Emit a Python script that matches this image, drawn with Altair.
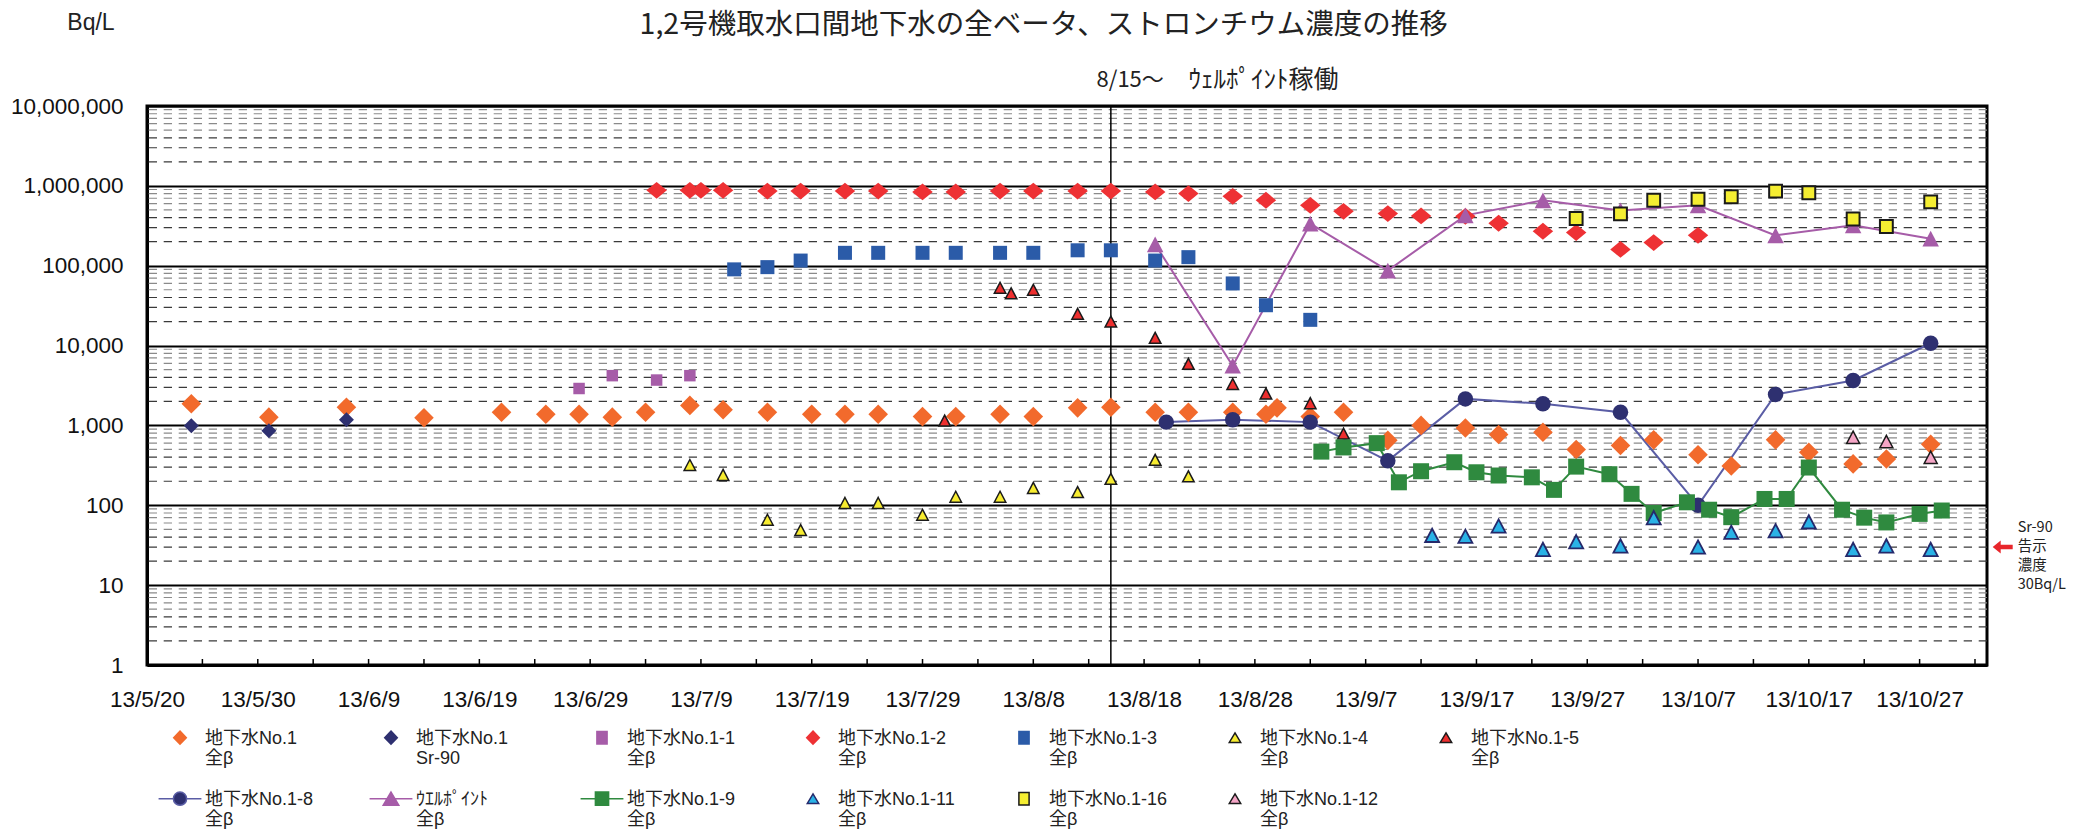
import altair as alt
import pandas as pd

# ------------------------------------------------------------------ data
TITLE = "1,2号機取水口間地下水の全ベータ、ストロンチウム濃度の推移"
UNIT = "Bq/L"
NOTE_TOP_A = "8/15～"
NOTE_TOP_B = "ｳｪﾙﾎﾟｲﾝﾄ稼働"
NOTE_RIGHT = "Sr-90\n告示\n濃度\n30Bq/L"
LIMIT_VALUE = [30]
WELLPOINT_START = ["2013-08-15"]

series_names = [
    "地下水No.1\n全β", "地下水No.1\nSr-90", "地下水No.1-1\n全β", "地下水No.1-2\n全β",
    "地下水No.1-3\n全β", "地下水No.1-4\n全β", "地下水No.1-5\n全β",
    "地下水No.1-8\n全β", "ｳｴﾙﾎﾟｲﾝﾄ\n全β", "地下水No.1-9\n全β", "地下水No.1-11\n全β",
    "地下水No.1-16\n全β", "地下水No.1-12\n全β",
]
line_series = ["地下水No.1-8\n全β", "ｳｴﾙﾎﾟｲﾝﾄ\n全β", "地下水No.1-9\n全β"]

no1_dates = ["05-24", "05-31", "06-07", "06-14", "06-21", "06-25", "06-28", "07-01", "07-04", "07-08",
             "07-11", "07-15", "07-19", "07-22", "07-25", "07-29", "08-01", "08-05", "08-08", "08-12",
             "08-15", "08-19", "08-22", "08-26", "08-29", "08-30", "09-02", "09-05",
             "09-09", "09-12", "09-16", "09-19", "09-23", "09-26", "09-30", "10-03", "10-07", "10-10",
             "10-14", "10-17", "10-21", "10-24", "10-28"]
no1_vals = [1870, 1270, 1690, 1250, 1460, 1380, 1380, 1270, 1460, 1780,
            1570, 1460, 1380, 1380, 1380, 1290, 1290, 1380, 1290, 1660,
            1690, 1460, 1460, 1460, 1380, 1660, 1290, 1460,
            650, 1000, 930, 770, 820, 500, 560, 660, 430, 310,
            660, 460, 330, 380, 580]

sr90_dates = ["05-24", "05-31", "06-07"]
sr90_vals = [990, 860, 1180]

no1_1_dates = ["06-28", "07-01", "07-05", "07-08"]
no1_1_vals = [2900, 4200, 3700, 4200]

no1_2_dates = ["07-05", "07-08", "07-09", "07-11", "07-15", "07-18", "07-22", "07-25", "07-29", "08-01",
               "08-05", "08-08", "08-12", "08-15", "08-19", "08-22", "08-26", "08-29", "09-02", "09-05",
               "09-09", "09-12", "09-16", "09-19", "09-23", "09-26", "09-30", "10-03", "10-07"]
no1_2_vals = [880000, 880000, 880000, 880000, 860000, 860000, 860000, 860000, 840000, 840000,
              860000, 860000, 860000, 860000, 840000, 800000, 740000, 660000, 570000, 480000,
              450000, 420000, 415000, 340000, 270000, 260000, 160000, 195000, 240000]

no1_3_dates = ["07-12", "07-15", "07-18", "07-22", "07-25", "07-29", "08-01", "08-05", "08-08", "08-12",
               "08-15", "08-19", "08-22", "08-26", "08-29", "09-02"]
no1_3_vals = [90000, 96000, 116000, 145000, 145000, 145000, 145000, 145000, 145000, 156000,
              156000, 116000, 128000, 60000, 32000, 21000]

no1_4_dates = ["07-08", "07-11", "07-15", "07-18", "07-22", "07-25", "07-29", "08-01", "08-05", "08-08",
               "08-12", "08-15", "08-19", "08-22"]
no1_4_vals = [320, 240, 66, 49, 107, 107, 76, 128, 128, 165, 146, 214, 370, 230]

no1_5_dates = ["07-31", "08-05", "08-06", "08-08", "08-12", "08-15", "08-19", "08-22", "08-26", "08-29",
               "09-02", "09-05"]
no1_5_vals = [1150, 53000, 45000, 50000, 25000, 20000, 12500, 5900, 3300, 2500, 1900, 790]

no1_8_dates = ["08-20", "08-26", "09-02", "09-09", "09-16", "09-23", "09-30", "10-07", "10-14", "10-21", "10-28"]
no1_8_vals = [1100, 1180, 1100, 360, 2150, 1870, 1460, 100, 2440, 3650, 10700]

well_dates = ["08-19", "08-26", "09-02", "09-09", "09-16", "09-23", "09-30", "10-07", "10-14", "10-21", "10-28"]
well_vals = [185000, 5600, 336000, 87000, 427000, 658000, 493000, 570000, 240000, 320000, 218000]

no1_9_dates = ["09-03", "09-05", "09-08", "09-10", "09-12", "09-15", "09-17", "09-19", "09-22", "09-24",
               "09-26", "09-29", "10-01", "10-03", "10-06", "10-08", "10-10", "10-13", "10-15", "10-17",
               "10-20", "10-22", "10-24", "10-27", "10-29"]
no1_9_vals = [470, 530, 600, 194, 267, 346, 259, 236, 224, 156,
              305, 245, 139, 80, 109, 88, 71, 120, 120, 297,
              88, 70, 61, 78, 86]

no1_11_dates = ["09-13", "09-16", "09-19", "09-23", "09-26", "09-30", "10-03", "10-07", "10-10", "10-14",
                "10-17", "10-21", "10-24", "10-28"]
no1_11_vals = [42, 41, 55, 28, 35, 31, 70, 30, 46, 48, 62, 28, 31, 28]

no1_16_dates = ["09-26", "09-30", "10-03", "10-07", "10-10", "10-14", "10-17", "10-21", "10-24", "10-28"]
no1_16_vals = [390000, 445000, 660000, 680000, 730000, 860000, 820000, 385000, 310000, 630000]

no1_12_dates = ["10-21", "10-24", "10-28"]
no1_12_vals = [710, 630, 400]

x_label_dates = ["2013-05-20", "2013-05-30", "2013-06-09", "2013-06-19", "2013-06-29", "2013-07-09",
                 "2013-07-19", "2013-07-29", "2013-08-08", "2013-08-18", "2013-08-28", "2013-09-07",
                 "2013-09-17", "2013-09-27", "2013-10-07", "2013-10-17", "2013-10-27"]
x_domain = ["2013-05-20", "2013-11-02 02:00"]
y_decades = [1, 10, 100, 1000, 10000, 100000, 1000000, 10000000]
minor_dark = [m * 10 ** k for k in range(7) for m in (2, 3, 4)]
minor_gray = [m * 10 ** k for k in range(7) for m in (5, 6, 7, 8, 9)]

all_series = [
    (no1_dates, no1_vals), (sr90_dates, sr90_vals), (no1_1_dates, no1_1_vals), (no1_2_dates, no1_2_vals),
    (no1_3_dates, no1_3_vals), (no1_4_dates, no1_4_vals), (no1_5_dates, no1_5_vals),
    (no1_8_dates, no1_8_vals), (well_dates, well_vals), (no1_9_dates, no1_9_vals),
    (no1_11_dates, no1_11_vals), (no1_16_dates, no1_16_vals), (no1_12_dates, no1_12_vals),
]
rows = []
for name, (ds, vs) in zip(series_names, all_series):
    for d, v in zip(ds, vs):
        rows.append({"date": "2013-" + d, "value": v, "series": name})
df = pd.DataFrame(rows)
df_lines = df[df["series"].isin(line_series)]

# ------------------------------------------------------------------ styles
TRI = "M0,-0.95L1,0.95L-1,0.95Z"
RED_DIA = "M0,-0.82L1,0L0,0.82L-1,0Z"
fills = ["#F26A2C", "#2E3070", "#A65CA8", "#EE3134", "#2B5BA8", "#F7EC30", "#EE2F2F",
         "#2E3070", "#A65CA8", "#2F8A3F", "#2AB2E6", "#F5EE32", "#F4A5C6"]
strokes = ["#F26A2C", "#2E3070", "#A65CA8", "#EE3134", "#2B5BA8", "#1a1a1a", "#1a1a1a",
           "#2E3070", "#A65CA8", "#2F8A3F", "#25296B", "#1a1a1a", "#1a1a1a"]
stroke_w = [0, 0, 0, 0, 0, 1.5, 1.5, 0, 0, 0, 1.8, 2, 1.5]
shapes = ["diamond", "diamond", "square", RED_DIA, "square", TRI, TRI,
          "circle", TRI, "square", TRI, "square", TRI]
sizes = [385, 225, 132, 420, 196, 132, 132, 240, 272, 256, 196, 165, 169]
line_colors = ["#5A5DA5", "#A65CA8", "#2F8A3F"]

# legend symbols (drawn 1.28 units low so they sit on the first label line)
EXT = "M-3.57,1.28M3.57,1.28"
L_DIA = EXT + "M0,0.18L1.05,1.28L0,2.38L-1.05,1.28Z"
L_SQ = EXT + "M-0.85,0.23H0.85V2.33H-0.85Z"
L_TRI = EXT + "M0,0.48L0.95,2.08L-0.95,2.08Z"
L_CIRC = "M-3.57,1.28H-1.1A1.1,1.1 0 0,1 1.1,1.28H3.57M1.1,1.28A1.1,1.1 0 0,1 -1.1,1.28"
L_TRI_LINE = "M-3.57,1.28H3.57M0,0.18L1.3,2.38L-1.3,2.38Z"
L_SQ_LINE = "M-3.57,1.28H3.57M-1.1,0.18H1.1V2.38H-1.1Z"
legend_shapes = [L_DIA, L_DIA, L_SQ, L_DIA, L_SQ, L_TRI, L_TRI, L_CIRC, L_TRI_LINE, L_SQ_LINE,
                 L_TRI, L_SQ, L_TRI]
legend_strokes = ["#F26A2C", "#2E3070", "#A65CA8", "#EE3134", "#2B5BA8", "#1a1a1a", "#1a1a1a",
                  "#5A5DA5", "#A65CA8", "#2F8A3F", "#25296B", "#1a1a1a", "#1a1a1a"]
ARROW = "M-1,0L-0.2,-0.65L-0.2,-0.22L1,-0.22L1,0.22L-0.2,0.22L-0.2,0.65Z"

LATIN = "Liberation Sans, Noto Sans CJK JP"
CJK = "Noto Sans CJK JP"
W, H = 1840, 559


def ms(d):
    return int(pd.Timestamp(d, tz="UTC").value // 10 ** 6)


xscale = alt.Scale(type="utc", domain=[ms(d) for d in x_domain])
yscale = alt.Scale(type="log", domain=[1, 10000000])
xaxis = alt.Axis(values=[ms(d) for d in x_label_dates],
                 labelExpr="utcFormat(datum.value, '%y/%-m/%-d')",
                 title=None, grid=False, ticks=False, labelPadding=23, labelFontSize=22.5,
                 labelFont=LATIN, labelColor="#111", domainColor="black", domainWidth=3,
                 labelOverlap=False, labelFlush=False)
yaxis = alt.Axis(values=y_decades, format=",", title=None, grid=True, gridColor="black",
                 gridWidth=2, ticks=False, labelPadding=24, labelFontSize=22.5, labelFont=LATIN,
                 labelColor="#111", domainColor="black", domainWidth=3, labelOverlap=False)


def X(field):
    return alt.X(field, type="temporal", scale=xscale, axis=xaxis)


def Y(field):
    return alt.Y(field, type="quantitative", scale=yscale, axis=yaxis)


grid_dark = alt.Chart(pd.DataFrame({"v": minor_dark})).mark_rule(
    color="#3a3a3a", strokeWidth=1.2, strokeDash=[8.3, 6.7]).encode(y=Y("v"))
grid_gray = alt.Chart(pd.DataFrame({"v": minor_gray})).mark_rule(
    color="#8a8a8a", strokeWidth=1.2, strokeDash=[8.3, 6.7]).encode(y=Y("v"))

tick_dates = [d.strftime("%Y-%m-%d") for d in pd.date_range("2013-05-20", "2013-11-01", freq="5D")]
xticks = alt.Chart(pd.DataFrame({"d": tick_dates})).mark_rule(color="black", strokeWidth=1.5).encode(
    x=X("d"), y=alt.value(H), y2=alt.value(H - 6))

vline = alt.Chart(pd.DataFrame({"d": WELLPOINT_START})).mark_rule(color="black", strokeWidth=1.5).encode(
    x=X("d"))

lines = alt.Chart(df_lines).mark_line(strokeWidth=2).encode(
    x=X("date"), y=Y("value"),
    color=alt.Color("series:N", scale=alt.Scale(domain=line_series, range=line_colors), legend=None))

point_layers = []
for i, name in enumerate(series_names):
    sub = df[df["series"] == name]
    point_layers.append(
        alt.Chart(sub).mark_point(
            filled=True, opacity=1, shape=shapes[i], size=sizes[i], fill=fills[i],
            stroke=strokes[i], strokeWidth=stroke_w[i],
        ).encode(x=X("date"), y=Y("value"))
    )

leg = alt.Legend(
    title=None, orient="none", legendX=24, legendY=615, direction="horizontal", columns=7,
    gridAlign="all", columnPadding=42, rowPadding=14, padding=0,
    symbolSize=144, symbolStrokeWidth=1.5, labelFont=LATIN, labelFontSize=18, labelColor="#222",
    labelBaseline="top", labelOffset=16, labelLimit=300,
    labelExpr="split(datum.label, '\\n')",
)
legend_layer = alt.Chart(df).transform_filter("false").mark_point(filled=True, opacity=1).encode(
    x=X("date"), y=Y("value"),
    shape=alt.Shape("series:N", scale=alt.Scale(domain=series_names, range=legend_shapes), legend=leg),
    fill=alt.Fill("series:N", scale=alt.Scale(domain=series_names, range=fills), legend=leg),
    stroke=alt.Stroke("series:N", scale=alt.Scale(domain=series_names, range=legend_strokes), legend=leg),
)

title_t = alt.Chart(pd.DataFrame({"t": [TITLE]})).mark_text(
    font=CJK, fontSize=28.5, align="center", baseline="middle", color="#222").encode(
    text="t:N", x=alt.value(896.7), y=alt.value(-81.2))
unit_t = alt.Chart(pd.DataFrame({"t": [UNIT]})).mark_text(
    font=LATIN, fontSize=23, align="center", baseline="middle", color="#222").encode(
    text="t:N", x=alt.value(-56), y=alt.value(-83))
note_top_a = alt.Chart(pd.DataFrame({"d": WELLPOINT_START, "t": [NOTE_TOP_A]})).mark_text(
    font=CJK, fontSize=22, align="left", baseline="middle", color="#222", dx=-14.3).encode(
    text="t:N", x=X("d"), y=alt.value(-26))
note_top_b = alt.Chart(pd.DataFrame({"d": WELLPOINT_START, "t": [NOTE_TOP_B]})).mark_text(
    font=CJK, fontSize=25, align="left", baseline="middle", color="#222", dx=77.7).encode(
    text="t:N", x=X("d"), y=alt.value(-26))
note_right = alt.Chart(pd.DataFrame({"v": LIMIT_VALUE, "t": [NOTE_RIGHT]})).mark_text(
    font=CJK, fontSize=14.5, align="left", baseline="top", color="#222", lineBreak="\n",
    lineHeight=19, dy=-26).encode(text="t:N", x=alt.value(1870.7), y=Y("v"))
arrow = alt.Chart(pd.DataFrame({"v": LIMIT_VALUE})).mark_point(
    shape=ARROW, filled=True, color="#E8262B", size=400, opacity=1).encode(
    x=alt.value(1855.7), y=Y("v"))

chart = alt.layer(
    grid_gray, grid_dark, xticks, vline, lines, *point_layers, legend_layer,
    title_t, unit_t, note_top_a, note_top_b, note_right, arrow,
).resolve_scale(
    shape="independent", fill="independent", stroke="independent", color="independent",
).properties(
    width=W, height=H,
    autosize=alt.AutoSizeParams(type="none"),
    padding={"left": 139, "top": 98, "right": 80, "bottom": 165},
    background="white",
).configure(
    style={"guide-label": {"lineHeight": 20}},
).configure_view(stroke="black", strokeWidth=3)

chart.save("out.html", embed_options={"renderer": "svg", "actions": False})
